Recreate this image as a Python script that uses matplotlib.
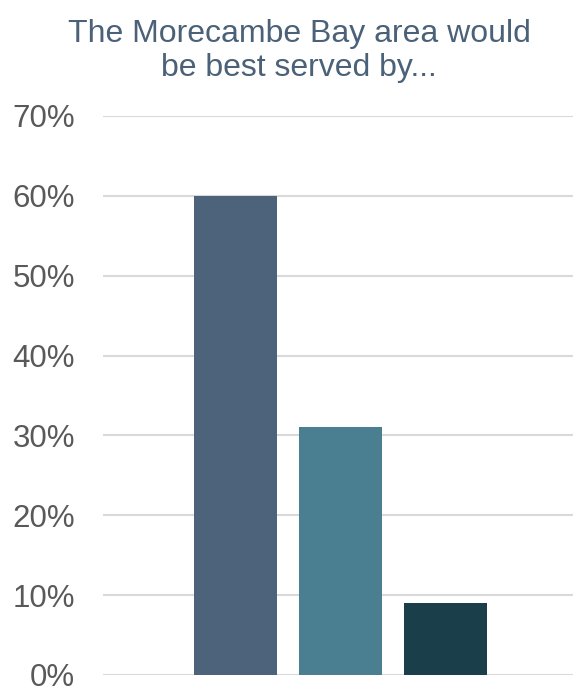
import matplotlib
matplotlib.use('Agg')
import matplotlib.pyplot as plt
from matplotlib.ticker import FuncFormatter

options = ['Option A', 'Option B', 'Option C']
shares = [60, 31, 9]
colours = ['#4d637c', '#4a7e91', '#1a3f4a']
y_ticks = [0, 10, 20, 30, 40, 50, 60, 70]

plt.rcParams['font.family'] = ['Liberation Sans', 'DejaVu Sans']

dpi = 100
fig = plt.figure(figsize=(573 / dpi, 688 / dpi), dpi=dpi)
ax = fig.add_axes([0.1798, 0.0189, 0.8202, 0.8125])

x = range(len(options))
ax.bar(x, shares, width=0.79, color=colours, zorder=3)

ax.set_ylim(0, 70)
ax.set_xlim(-1.259, 3.213)
ax.set_yticks(y_ticks)
ax.yaxis.set_major_formatter(FuncFormatter(lambda v, p: '%d%%' % v))
ax.set_xticks([])
ax.tick_params(axis='y', length=0, pad=20, labelsize=22.5, labelcolor='#595959')
ax.grid(axis='y', color='#d9d9d9', linewidth=1.5, zorder=0)
for s in ax.spines.values():
    s.set_visible(False)

fig.text(0.522, 0.926, 'The Morecambe Bay area would\nbe best served by...',
         ha='center', va='center', fontsize=23, color='#4a6178', linespacing=1.15)

fig.savefig('out.png', dpi=dpi)
